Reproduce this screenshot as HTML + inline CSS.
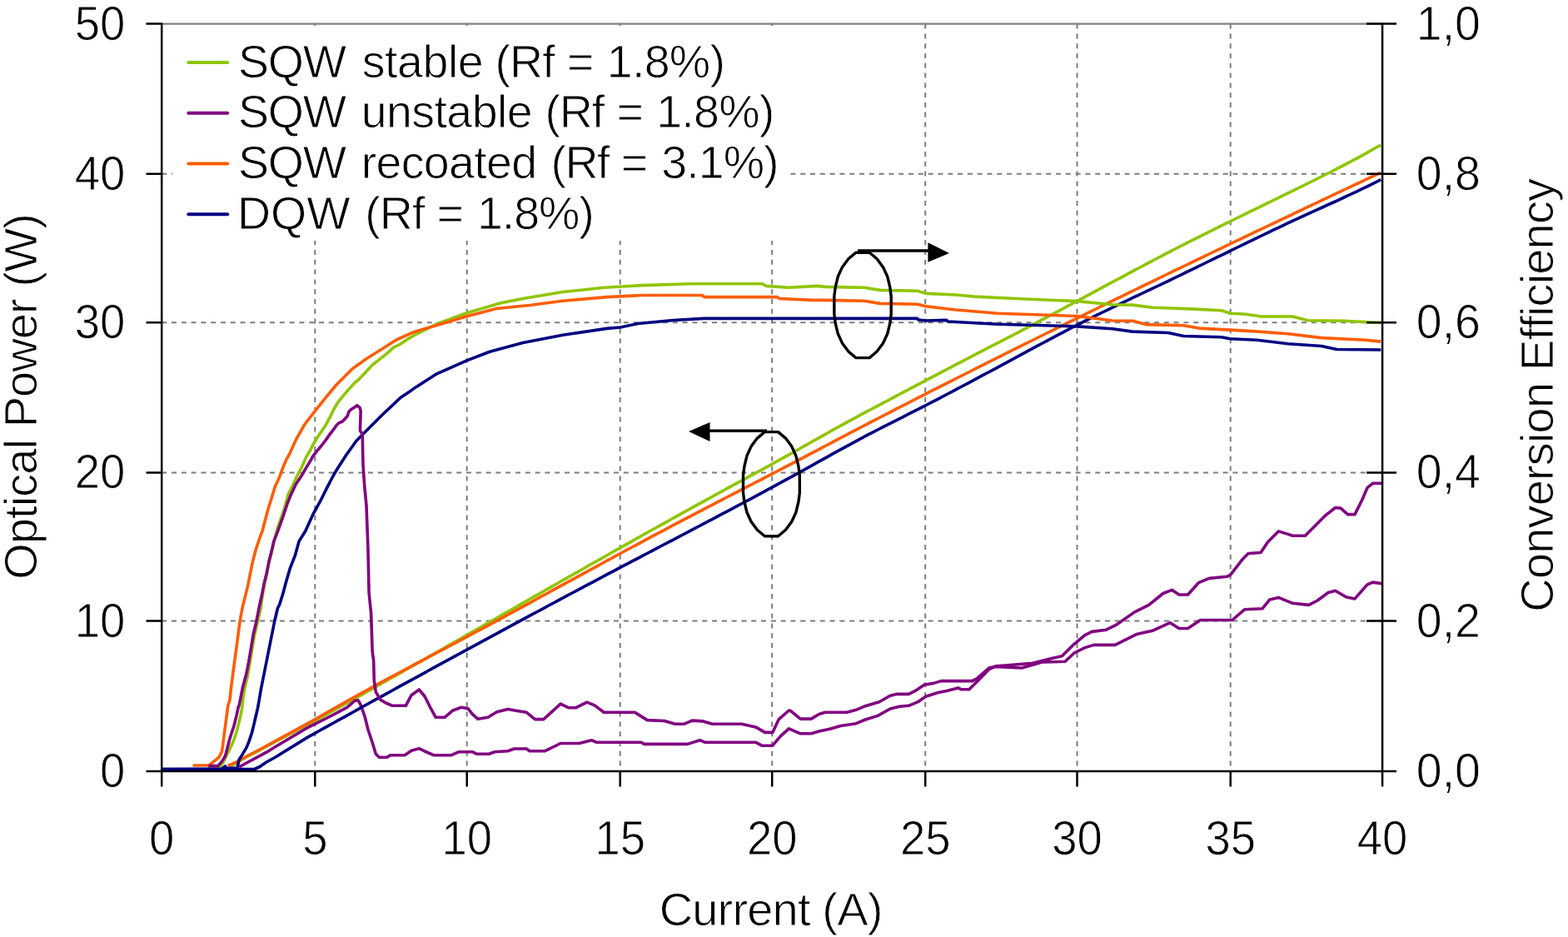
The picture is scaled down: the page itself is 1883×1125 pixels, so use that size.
<!DOCTYPE html><html><head><meta charset="utf-8"><title>Optical power and conversion efficiency vs current</title><style>
html,body{margin:0;padding:0;background:#fff;}body{width:1883px;height:1125px;overflow:hidden;}
svg{display:block;}text{font-family:"Liberation Sans",Arial,sans-serif;fill:#000;stroke:#fff;stroke-width:0.9px;}
</style></head><body>
<svg width="1883" height="1125" viewBox="0 0 1883 1125">
<rect x="0" y="0" width="1883" height="1125" fill="#fff"/>
<path d="M378.3 28.6V925.9M560.7 28.6V925.9M744.7 28.6V925.9M927.2 28.6V925.9M1111.2 28.6V925.9M1293.5 28.6V925.9M1477.7 28.6V925.9M194.2 745.6H1660.1M194.2 567.4H1660.1M194.2 387.3H1660.1M194.2 208.8H1660.1" stroke="#7c7c7c" stroke-width="2.0" stroke-dasharray="6 5.8" fill="none"/>
<path d="M194.2 28.6H1660.1" stroke="#808080" stroke-width="2.2" fill="none"/>
<rect x="207" y="31" width="739" height="258" fill="#fff"/>
<polyline points="276.0,921.0 284.8,915.5 296.0,909.0 308.0,903.0 320.0,896.2 380.0,864.6 386.0,861.2 392.0,857.9 398.0,854.5 404.0,851.2 410.0,847.8 416.0,844.5 422.0,841.1 428.0,837.7 434.0,834.4 440.0,831.0 446.0,827.6 452.0,824.2 458.0,820.8 464.0,817.4 470.0,814.0 476.0,810.6 482.0,807.2 488.0,803.8 494.0,800.4 500.0,797.0 506.0,793.6 512.0,790.2 518.0,786.8 524.0,783.4 530.0,780.0 536.0,776.5 542.0,773.1 548.0,769.7 554.0,766.3 560.0,762.8 566.0,759.4 572.0,756.0 578.0,752.6 584.0,749.1 590.0,745.7 596.0,742.3 602.0,738.9 608.0,735.4 614.0,732.0 620.0,728.6 626.0,725.1 632.0,721.7 638.0,718.3 644.0,714.9 650.0,711.5 656.0,708.0 662.0,704.6 668.0,701.2 674.0,697.8 680.0,694.4 686.0,691.0 692.0,687.6 698.0,684.2 704.0,680.7 710.0,677.3 716.0,674.0 722.0,670.6 728.0,667.2 734.0,663.8 740.0,660.4 746.0,657.0 752.0,653.6 758.0,650.3 764.0,646.9 770.0,643.5 776.0,640.2 782.0,636.8 788.0,633.5 794.0,630.1 800.0,626.8 806.0,623.5 812.0,620.1 818.0,616.8 824.0,613.5 830.0,610.2 836.0,606.9 842.0,603.6 848.0,600.3 854.0,597.0 860.0,593.7 866.0,590.5 872.0,587.2 878.0,583.9 884.0,580.7 890.0,577.4 896.0,574.2 902.0,570.9 908.0,567.6 914.0,564.4 920.0,561.1 926.0,557.8 932.0,554.5 938.0,551.2 944.0,547.9 950.0,544.5 956.0,541.2 962.0,537.8 968.0,534.4 974.0,531.0 980.0,527.6 986.0,524.3 992.0,520.9 998.0,517.5 1004.0,514.2 1010.0,510.9 1016.0,507.6 1022.0,504.3 1028.0,501.1 1034.0,497.9 1040.0,494.7 1046.0,491.5 1052.0,488.3 1058.0,485.1 1064.0,482.0 1070.0,478.8 1076.0,475.6 1082.0,472.4 1088.0,469.3 1094.0,466.1 1100.0,462.9 1106.0,459.8 1112.0,456.6 1118.0,453.4 1124.0,450.3 1130.0,447.1 1136.0,444.0 1142.0,440.8 1148.0,437.7 1154.0,434.6 1160.0,431.5 1166.0,428.3 1172.0,425.2 1178.0,422.1 1184.0,419.0 1190.0,415.9 1196.0,412.8 1202.0,409.8 1208.0,406.7 1214.0,403.6 1220.0,400.5 1226.0,397.3 1232.0,394.2 1238.0,391.1 1244.0,387.9 1250.0,384.7 1256.0,381.5 1262.0,378.4 1268.0,375.2 1274.0,372.0 1280.0,368.7 1286.0,365.5 1292.0,362.3 1298.0,359.1 1304.0,355.9 1310.0,352.6 1316.0,349.4 1322.0,346.2 1328.0,342.9 1334.0,339.7 1340.0,336.5 1346.0,333.3 1352.0,330.1 1358.0,326.8 1364.0,323.6 1370.0,320.5 1376.0,317.3 1382.0,314.1 1388.0,311.0 1394.0,307.8 1400.0,304.7 1406.0,301.6 1412.0,298.5 1418.0,295.5 1424.0,292.4 1430.0,289.4 1436.0,286.3 1442.0,283.3 1448.0,280.3 1454.0,277.3 1460.0,274.4 1466.0,271.4 1472.0,268.4 1478.0,265.5 1484.0,262.5 1490.0,259.6 1496.0,256.6 1502.0,253.7 1508.0,250.8 1514.0,247.9 1520.0,244.9 1526.0,242.0 1532.0,239.1 1538.0,236.2 1544.0,233.2 1550.0,230.3 1556.0,227.4 1562.0,224.4 1568.0,221.5 1574.0,218.5 1580.0,215.5 1586.0,212.5 1592.0,209.5 1598.0,206.5 1604.0,203.4 1610.0,200.3 1616.0,197.2 1622.0,194.0 1628.0,190.8 1634.0,187.6 1640.0,184.3 1646.0,180.9 1652.0,177.5 1658.0,174.1 1658.2,173.9" fill="none" stroke="#90C500" stroke-width="3.6" stroke-linejoin="round" stroke-linecap="butt"/>
<polyline points="287.2,920.8 296.0,916.0 308.0,909.6 320.0,903.2 330.0,897.0 370.0,873.3 396.7,860.0 416.7,849.3 426.0,841.3 430.0,840.7 432.7,845.3 438.0,860.0 442.0,876.0 447.3,892.0 451.3,905.3 455.3,909.3 464.7,909.3 468.7,906.7 486.0,906.7 494.0,901.3 503.3,898.7 510.0,902.0 520.7,906.7 542.0,906.7 551.3,902.7 567.3,902.7 572.7,905.3 587.3,905.3 594.0,902.7 610.0,901.7 617.4,899.0 632.3,899.0 636.0,901.7 654.6,901.7 673.2,892.5 695.5,892.5 710.4,888.7 716.0,891.2 769.9,891.2 773.6,893.4 825.6,893.4 840.5,888.7 846.1,891.2 907.4,891.2 914.8,895.2 927.8,895.2 937.1,884.1 947.4,874.8 961.2,880.8 974.2,880.8 983.5,878.0 996.5,875.2 1009.5,871.5 1028.1,868.7 1039.2,864.0 1054.1,859.4 1069.0,851.0 1080.1,848.3 1091.3,847.3 1102.4,842.7 1111.7,836.2 1126.6,831.5 1135.9,829.7 1150.7,825.9 1154.5,827.8 1163.8,827.8 1174.9,816.7 1187.9,803.6 1195.4,799.9 1206.5,799.0 1240.0,796.2 1266.0,789.7 1275.3,787.8 1290.0,773.3 1302.8,762.6 1311.3,758.4 1328.4,756.2 1341.2,749.8 1362.5,734.9 1379.6,726.4 1396.7,712.5 1407.3,708.3 1415.9,714.0 1426.5,714.0 1439.3,699.7 1452.1,694.4 1473.4,692.3 1477.7,690.1 1492.6,670.9 1499.0,664.5 1514.0,663.5 1522.5,650.7 1535.3,637.9 1546.0,641.1 1552.4,643.2 1567.3,643.2 1590.8,619.7 1603.6,609.5 1610.0,610.1 1618.5,617.6 1627.0,617.6 1635.6,600.5 1642.0,585.6 1648.4,580.3 1660.1,580.3" fill="none" stroke="#800080" stroke-width="3.6" stroke-linejoin="round" stroke-linecap="butt"/>
<polyline points="273.6,919.2 280.0,916.8 284.8,914.4 296.0,908.0 308.0,902.0 320.0,895.5 330.0,890.0 380.0,862.8 386.0,859.3 392.0,855.8 398.0,852.4 404.0,849.0 410.0,845.6 416.0,842.2 422.0,838.9 428.0,835.6 434.0,832.3 440.0,829.0 446.0,825.7 452.0,822.4 458.0,819.2 464.0,815.9 470.0,812.7 476.0,809.5 482.0,806.3 488.0,803.1 494.0,799.9 500.0,796.7 506.0,793.6 512.0,790.4 518.0,787.2 524.0,784.0 530.0,780.9 536.0,777.7 542.0,774.5 548.0,771.3 554.0,768.1 560.0,764.9 566.0,761.7 572.0,758.5 578.0,755.3 584.0,752.1 590.0,748.8 596.0,745.6 602.0,742.3 608.0,739.1 614.0,735.8 620.0,732.6 626.0,729.3 632.0,726.1 638.0,722.8 644.0,719.5 650.0,716.2 656.0,713.0 662.0,709.7 668.0,706.4 674.0,703.1 680.0,699.9 686.0,696.6 692.0,693.3 698.0,690.1 704.0,686.8 710.0,683.5 716.0,680.3 722.0,677.0 728.0,673.7 734.0,670.5 740.0,667.2 746.0,664.0 752.0,660.7 758.0,657.5 764.0,654.3 770.0,651.1 776.0,647.8 782.0,644.6 788.0,641.4 794.0,638.3 800.0,635.1 806.0,631.9 812.0,628.7 818.0,625.6 824.0,622.4 830.0,619.3 836.0,616.2 842.0,613.1 848.0,609.9 854.0,606.8 860.0,603.7 866.0,600.6 872.0,597.5 878.0,594.4 884.0,591.3 890.0,588.2 896.0,585.1 902.0,582.0 908.0,578.9 914.0,575.8 920.0,572.7 926.0,569.6 932.0,566.5 938.0,563.3 944.0,560.2 950.0,557.1 956.0,553.9 962.0,550.8 968.0,547.6 974.0,544.4 980.0,541.3 986.0,538.1 992.0,535.0 998.0,531.8 1004.0,528.7 1010.0,525.5 1016.0,522.4 1022.0,519.2 1028.0,516.1 1034.0,513.0 1040.0,509.9 1046.0,506.7 1052.0,503.6 1058.0,500.5 1064.0,497.4 1070.0,494.3 1076.0,491.2 1082.0,488.2 1088.0,485.1 1094.0,482.0 1100.0,478.9 1106.0,475.9 1112.0,472.8 1118.0,469.7 1124.0,466.7 1130.0,463.7 1136.0,460.6 1142.0,457.6 1148.0,454.5 1154.0,451.5 1160.0,448.5 1166.0,445.5 1172.0,442.4 1178.0,439.4 1184.0,436.4 1190.0,433.4 1196.0,430.4 1202.0,427.4 1208.0,424.4 1214.0,421.4 1220.0,418.4 1226.0,415.4 1232.0,412.4 1238.0,409.5 1244.0,406.5 1250.0,403.5 1256.0,400.5 1262.0,397.6 1268.0,394.6 1274.0,391.6 1280.0,388.7 1286.0,385.7 1292.0,382.8 1298.0,379.8 1304.0,376.8 1310.0,373.9 1316.0,371.0 1322.0,368.0 1328.0,365.1 1334.0,362.1 1340.0,359.2 1346.0,356.3 1352.0,353.4 1358.0,350.4 1364.0,347.5 1370.0,344.6 1376.0,341.7 1382.0,338.8 1388.0,335.9 1394.0,333.0 1400.0,330.0 1406.0,327.1 1412.0,324.2 1418.0,321.4 1424.0,318.5 1430.0,315.6 1436.0,312.7 1442.0,309.8 1448.0,306.9 1454.0,304.0 1460.0,301.2 1466.0,298.3 1472.0,295.4 1478.0,292.5 1484.0,289.7 1490.0,286.8 1496.0,283.9 1502.0,281.1 1508.0,278.2 1514.0,275.4 1520.0,272.5 1526.0,269.6 1532.0,266.8 1538.0,263.9 1544.0,261.1 1550.0,258.3 1556.0,255.4 1562.0,252.6 1568.0,249.7 1574.0,246.9 1580.0,244.0 1586.0,241.2 1592.0,238.4 1598.0,235.5 1604.0,232.7 1610.0,229.9 1616.0,227.0 1622.0,224.2 1628.0,221.4 1634.0,218.6 1640.0,215.7 1646.0,212.9 1652.0,210.1 1658.0,207.3 1658.2,207.2" fill="none" stroke="#FF5D00" stroke-width="3.6" stroke-linejoin="round" stroke-linecap="butt"/>
<polyline points="194.0,923.5 305.6,923.5 312.0,920.5 320.0,915.0 330.0,909.5 370.0,884.9 376.0,881.6 382.0,878.2 388.0,874.9 394.0,871.6 400.0,868.2 406.0,864.9 412.0,861.6 418.0,858.3 424.0,855.0 430.0,851.7 436.0,848.3 442.0,845.0 448.0,841.7 454.0,838.4 460.0,835.1 466.0,831.8 472.0,828.5 478.0,825.2 484.0,821.9 490.0,818.6 496.0,815.4 502.0,812.1 508.0,808.8 514.0,805.5 520.0,802.2 526.0,798.9 532.0,795.7 538.0,792.4 544.0,789.1 550.0,785.9 556.0,782.6 562.0,779.3 568.0,776.1 574.0,772.8 580.0,769.6 586.0,766.3 592.0,763.1 598.0,759.8 604.0,756.6 610.0,753.3 616.0,750.1 622.0,746.9 628.0,743.6 634.0,740.4 640.0,737.2 646.0,734.0 652.0,730.8 658.0,727.5 664.0,724.3 670.0,721.1 676.0,717.9 682.0,714.7 688.0,711.5 694.0,708.3 700.0,705.1 706.0,701.9 712.0,698.8 718.0,695.6 724.0,692.4 730.0,689.2 736.0,686.1 742.0,682.9 748.0,679.7 754.0,676.6 760.0,673.4 766.0,670.3 772.0,667.1 778.0,664.0 784.0,660.8 790.0,657.7 796.0,654.5 802.0,651.4 808.0,648.3 814.0,645.1 820.0,642.0 826.0,638.8 832.0,635.7 838.0,632.5 844.0,629.4 850.0,626.2 856.0,623.1 862.0,619.9 868.0,616.7 874.0,613.6 880.0,610.4 886.0,607.2 892.0,604.0 898.0,600.8 904.0,597.6 910.0,594.4 916.0,591.2 922.0,587.9 928.0,584.7 934.0,581.4 940.0,578.1 946.0,574.9 952.0,571.6 958.0,568.3 964.0,565.0 970.0,561.6 976.0,558.3 982.0,554.9 988.0,551.6 994.0,548.3 1000.0,544.9 1006.0,541.6 1012.0,538.3 1018.0,535.1 1024.0,531.8 1030.0,528.6 1036.0,525.4 1042.0,522.2 1048.0,519.1 1054.0,516.0 1060.0,512.9 1066.0,509.9 1072.0,506.8 1078.0,503.8 1084.0,500.8 1090.0,497.7 1096.0,494.7 1102.0,491.6 1108.0,488.6 1114.0,485.5 1120.0,482.4 1126.0,479.3 1132.0,476.1 1138.0,473.0 1144.0,469.8 1150.0,466.7 1156.0,463.5 1162.0,460.3 1168.0,457.1 1174.0,453.9 1180.0,450.7 1186.0,447.5 1192.0,444.3 1198.0,441.1 1204.0,437.8 1210.0,434.6 1216.0,431.4 1222.0,428.1 1228.0,424.9 1234.0,421.6 1240.0,418.4 1246.0,415.2 1252.0,412.0 1258.0,408.8 1264.0,405.6 1270.0,402.4 1276.0,399.3 1282.0,396.1 1288.0,393.0 1294.0,389.9 1300.0,386.9 1306.0,383.9 1312.0,380.9 1318.0,377.9 1324.0,375.0 1330.0,372.1 1336.0,369.2 1342.0,366.3 1348.0,363.4 1354.0,360.6 1360.0,357.7 1366.0,354.9 1372.0,352.0 1378.0,349.2 1384.0,346.4 1390.0,343.5 1396.0,340.7 1402.0,337.8 1408.0,334.9 1414.0,332.0 1420.0,329.1 1426.0,326.2 1432.0,323.3 1438.0,320.4 1444.0,317.5 1450.0,314.5 1456.0,311.6 1462.0,308.7 1468.0,305.8 1474.0,302.8 1480.0,299.9 1486.0,297.0 1492.0,294.1 1498.0,291.2 1504.0,288.3 1510.0,285.4 1516.0,282.5 1522.0,279.6 1528.0,276.7 1534.0,273.9 1540.0,271.1 1546.0,268.2 1552.0,265.4 1558.0,262.7 1564.0,259.9 1570.0,257.2 1576.0,254.4 1582.0,251.7 1588.0,249.0 1594.0,246.2 1600.0,243.5 1606.0,240.8 1612.0,238.0 1618.0,235.2 1624.0,232.4 1630.0,229.6 1636.0,226.7 1642.0,223.8 1648.0,220.8 1654.0,217.8 1658.2,215.7" fill="none" stroke="#000080" stroke-width="3.6" stroke-linejoin="round" stroke-linecap="butt"/>
<polyline points="249.6,921.6 264.0,921.6 268.8,913.6 273.6,904.0 277.6,896.0 281.6,886.4 284.8,876.0 287.2,866.4 289.6,856.0 291.2,846.4 291.6,840.0 294.0,826.0 297.7,810.0 300.4,794.0 303.1,778.0 305.7,762.0 309.5,746.0 313.2,730.0 315.5,713.1 317.8,700.4 320.5,688.7 323.4,674.0 326.3,662.3 329.3,649.6 332.9,635.1 338.2,620.0 341.8,609.3 346.2,593.3 351.6,582.7 356.9,571.1 362.2,561.3 367.6,548.9 372.9,540.0 375.0,535.5 380.3,526.5 385.7,518.5 391.0,510.5 396.3,500.9 400.3,492.5 405.7,483.1 411.0,476.7 416.3,470.3 421.7,464.4 427.0,458.5 430.0,456.6 438.1,447.9 446.2,439.2 456.1,431.1 464.2,424.9 472.3,417.4 481.0,413.0 489.1,407.4 500.0,401.2 524.5,389.0 560.6,375.8 601.5,363.8 628.0,358.5 675.9,350.5 726.3,345.2 771.5,342.6 829.9,340.7 914.9,340.7 920.2,343.4 946.7,345.2 981.2,343.4 991.2,344.4 1037.6,345.2 1056.8,348.4 1101.6,349.2 1112.8,352.4 1148.0,354.0 1170.4,356.1 1225.6,358.8 1293.6,361.6 1335.8,365.7 1360.0,366.1 1384.0,369.3 1429.4,370.9 1466.7,372.8 1477.4,376.3 1496.1,377.3 1514.7,380.0 1552.1,380.0 1570.8,384.8 1613.5,385.3 1658.3,387.5" fill="none" stroke="#90C500" stroke-width="3.6" stroke-linejoin="round" stroke-linecap="butt"/>
<polyline points="231.6,919.0 251.2,918.8 257.6,913.6 263.2,908.8 266.4,902.4 267.6,894.4 269.2,881.6 271.6,864.0 273.6,848.0 276.0,840.0 277.5,826.0 279.6,810.0 281.7,794.0 283.9,778.0 286.0,762.0 288.1,746.0 291.0,730.0 294.7,715.1 297.6,703.4 300.5,688.7 303.5,674.0 307.4,659.3 312.3,644.7 314.7,638.7 319.6,620.0 323.1,607.6 327.6,593.3 330.2,584.4 335.6,572.9 339.1,563.1 343.6,552.4 348.4,543.6 356.0,526.8 365.6,510.0 377.6,494.4 392.0,476.4 404.0,462.0 423.2,442.8 440.0,430.8 459.2,418.8 476.0,408.0 497.6,398.4 524.5,390.4 560.6,379.7 596.2,370.5 636.0,366.5 675.9,361.2 729.0,356.6 771.5,354.5 843.2,354.5 845.8,356.6 933.4,356.6 936.1,358.5 975.9,360.4 990.0,360.4 1037.6,361.2 1056.8,364.4 1101.6,365.2 1112.8,367.9 1130.4,370.0 1148.0,372.0 1198.0,376.2 1293.6,379.5 1335.8,385.0 1360.0,385.3 1376.0,389.6 1421.4,390.7 1440.0,394.1 1504.1,397.6 1546.8,400.8 1586.8,405.6 1640.1,408.3 1658.3,410.1" fill="none" stroke="#FF5D00" stroke-width="3.6" stroke-linejoin="round" stroke-linecap="butt"/>
<polyline points="194.0,923.5 266.4,923.2 270.4,920.0 272.8,922.4 284.8,922.4 287.2,912.0 291.2,905.6 296.0,897.6 299.2,889.6 302.4,880.0 304.8,870.4 307.2,860.0 309.6,849.6 311.3,840.0 313.7,826.0 316.9,810.0 320.1,794.0 323.3,778.0 326.5,762.0 329.7,746.0 333.5,730.0 335.7,725.8 339.7,713.1 343.6,698.5 348.5,681.8 354.3,667.2 359.2,649.6 366.7,637.8 375.6,618.2 384.4,602.2 393.3,584.4 400.0,571.5 404.7,563.5 416.0,546.0 428.0,529.2 442.4,514.8 459.2,498.0 480.8,477.6 490.0,471.4 500.0,464.4 524.5,448.8 560.6,432.9 588.2,422.2 628.0,411.6 675.9,402.3 729.0,394.4 744.9,393.0 766.2,388.5 808.6,384.5 845.8,382.4 990.0,382.4 1101.6,382.3 1103.0,384.0 1111.2,385.0 1136.8,384.4 1138.4,386.0 1198.0,389.2 1293.6,391.9 1335.8,394.7 1360.0,398.1 1402.7,399.5 1421.4,403.5 1466.7,404.8 1477.4,406.7 1509.4,408.3 1546.8,412.8 1586.8,415.5 1605.5,419.5 1658.3,420.0" fill="none" stroke="#000080" stroke-width="3.6" stroke-linejoin="round" stroke-linecap="butt"/>
<polyline points="250.4,919.6 261.6,919.6 266.4,914.4 270.4,908.0 272.8,899.2 275.2,889.6 277.6,881.6 280.8,872.0 284.0,859.2 286.4,848.0 287.1,847.3 291.3,826.0 295.6,810.0 298.8,794.0 301.5,778.0 304.1,762.0 307.9,746.0 311.0,730.0 314.7,713.1 317.2,700.4 320.1,688.7 323.0,674.0 326.0,662.3 328.9,649.6 332.8,639.8 340.0,620.0 345.3,604.0 348.9,595.1 355.1,581.8 362.2,571.1 368.4,560.4 373.8,551.6 375.0,548.9 380.3,541.9 385.7,535.5 391.0,528.6 396.3,521.1 401.7,514.2 404.1,510.5 407.0,507.8 411.3,506.0 415.0,502.0 417.4,499.1 419.0,494.3 421.7,491.6 425.9,488.9 428.6,486.8 431.8,488.9 433.2,493.0 432.8,505.0 432.4,517.0 435.2,521.2 436.0,558.0 437.6,582.0 440.0,607.0 442.0,660.4 443.1,711.6 445.6,736.4 447.2,782.8 448.7,793.3 449.3,817.3 451.3,830.7 456.7,840.0 463.3,844.0 471.3,847.3 487.3,847.3 494.0,834.7 503.3,828.0 510.0,836.0 516.7,849.3 523.3,861.3 534.0,861.3 543.3,853.3 554.0,849.3 562.0,850.7 567.3,857.3 574.0,863.3 586.0,861.3 596.7,854.7 610.0,851.5 621.2,853.4 632.3,855.3 642.5,863.6 652.8,863.6 673.2,845.1 682.5,849.7 691.8,849.7 704.8,843.2 714.1,846.9 725.2,855.3 762.4,855.3 777.3,864.6 797.7,865.5 810.7,869.2 821.9,869.2 831.2,865.1 844.2,865.9 855.4,869.2 890.7,869.2 907.4,872.9 918.6,879.4 927.8,879.4 935.3,863.6 947.4,853.0 950.0,853.8 961.2,863.1 974.2,863.1 983.5,857.5 990.9,855.3 1016.9,855.3 1028.1,852.3 1037.4,848.3 1055.9,842.7 1069.0,835.2 1076.4,833.4 1091.3,833.4 1098.7,829.7 1109.9,822.2 1121.0,820.4 1130.3,817.6 1167.5,817.6 1173.0,814.8 1187.9,801.8 1195.4,800.5 1206.5,801.0 1226.9,802.0 1251.1,795.0 1279.0,794.3 1290.0,784.0 1302.8,777.6 1313.5,774.4 1339.1,774.4 1364.7,761.6 1383.9,757.3 1405.2,747.7 1415.9,754.5 1426.5,754.5 1441.5,744.5 1479.8,744.5 1494.8,731.7 1516.1,730.7 1524.6,720.0 1535.3,717.4 1552.4,724.3 1571.6,726.4 1582.2,721.0 1595.0,711.5 1603.6,709.3 1616.4,716.8 1627.0,718.9 1642.0,701.9 1648.4,699.1 1660.1,700.8" fill="none" stroke="#800080" stroke-width="3.6" stroke-linejoin="round" stroke-linecap="butt"/>
<path d="M194.2 27.6V944.5M194.2 925.9H1660.1M1660.1 28.6V944.5M175.5 925.9H194.2M1641 925.9H1677M175.5 745.6H194.2M1641 745.6H1677M175.5 567.4H194.2M1641 567.4H1677M175.5 387.3H194.2M1641 387.3H1677M175.5 208.8H194.2M1641 208.8H1677M175.5 28.6H194.2M1641 28.6H1677M194.2 925.9V944.5M378.3 925.9V944.5M560.7 925.9V944.5M744.7 925.9V944.5M927.2 925.9V944.5M1111.2 925.9V944.5M1293.5 925.9V944.5M1477.7 925.9V944.5M1660.1 925.9V944.5" stroke="#000" stroke-width="2.5" fill="none"/>
<g fill="none" stroke="#000" stroke-width="3.4" stroke-linejoin="round">
<path d="M934.5 518.6L943.4 526.1L950.8 536.1L955.9 547.4L958.9 559.9L960.3 570.6L960.3 591.8L958.9 602.5L955.9 615.0L950.8 626.3L943.4 636.3L934.5 643.8L918.3 643.8L909.4 636.3L902.0 626.3L896.9 615.0L893.9 602.5L892.5 591.8L892.5 570.6L893.9 559.9L896.9 547.4L902.0 536.1L909.4 526.1L918.3 518.6Z"/>
<path d="M1044.2 303.2L1053.1 310.8L1060.6 320.9L1065.8 332.3L1068.8 344.9L1070.2 355.7L1070.2 377.1L1068.8 387.9L1065.8 400.5L1060.6 411.9L1053.1 422.0L1044.2 429.6L1027.8 429.6L1018.9 422.0L1011.4 411.9L1006.2 400.5L1003.2 387.9L1001.8 377.1L1001.8 355.7L1003.2 344.9L1006.2 332.3L1011.4 320.9L1018.9 310.8L1027.8 303.2Z"/>
</g>
<g fill="none" stroke="#000" stroke-width="3.6">
<path d="M921 517.2H848"/>
<path d="M1030 301H1118"/>
</g>
<path d="M827 518L852.5 507V530Z" fill="#000"/>
<path d="M1140 304L1114.4 291.2V314.8Z" fill="#000"/>
<g font-size="57">
<text x="150.3" y="944.9" text-anchor="end" textLength="30.27" lengthAdjust="spacingAndGlyphs">0</text>
<text x="150.3" y="764.6" text-anchor="end" textLength="60.53" lengthAdjust="spacingAndGlyphs">10</text>
<text x="150.3" y="586.4" text-anchor="end" textLength="60.53" lengthAdjust="spacingAndGlyphs">20</text>
<text x="150.3" y="406.3" text-anchor="end" textLength="60.53" lengthAdjust="spacingAndGlyphs">30</text>
<text x="150.3" y="227.8" text-anchor="end" textLength="60.53" lengthAdjust="spacingAndGlyphs">40</text>
<text x="150.3" y="47.6" text-anchor="end" textLength="60.53" lengthAdjust="spacingAndGlyphs">50</text>
<text x="1700.8" y="944.9" textLength="77.18" lengthAdjust="spacingAndGlyphs">0,0</text>
<text x="1700.8" y="764.6" textLength="77.18" lengthAdjust="spacingAndGlyphs">0,2</text>
<text x="1700.8" y="586.4" textLength="77.18" lengthAdjust="spacingAndGlyphs">0,4</text>
<text x="1700.8" y="406.3" textLength="77.18" lengthAdjust="spacingAndGlyphs">0,6</text>
<text x="1700.8" y="227.8" textLength="77.18" lengthAdjust="spacingAndGlyphs">0,8</text>
<text x="1700.8" y="47.6" textLength="77.18" lengthAdjust="spacingAndGlyphs">1,0</text>
<text x="194.2" y="1025.6" text-anchor="middle" textLength="30.27" lengthAdjust="spacingAndGlyphs">0</text>
<text x="378.3" y="1025.6" text-anchor="middle" textLength="30.27" lengthAdjust="spacingAndGlyphs">5</text>
<text x="560.7" y="1025.6" text-anchor="middle" textLength="60.53" lengthAdjust="spacingAndGlyphs">10</text>
<text x="744.7" y="1025.6" text-anchor="middle" textLength="60.53" lengthAdjust="spacingAndGlyphs">15</text>
<text x="927.2" y="1025.6" text-anchor="middle" textLength="60.53" lengthAdjust="spacingAndGlyphs">20</text>
<text x="1111.2" y="1025.6" text-anchor="middle" textLength="60.53" lengthAdjust="spacingAndGlyphs">25</text>
<text x="1293.5" y="1025.6" text-anchor="middle" textLength="60.53" lengthAdjust="spacingAndGlyphs">30</text>
<text x="1477.7" y="1025.6" text-anchor="middle" textLength="60.53" lengthAdjust="spacingAndGlyphs">35</text>
<text x="1660.1" y="1025.6" text-anchor="middle" textLength="60.53" lengthAdjust="spacingAndGlyphs">40</text>
</g>
<g font-size="56">
<text x="926" y="1110.8" text-anchor="middle" textLength="268.6" lengthAdjust="spacing">Current (A)</text>
<text transform="translate(44.2 476) rotate(-90)" text-anchor="middle" textLength="439.5" lengthAdjust="spacing">Optical Power (W)</text>
<text transform="translate(1865 474.3) rotate(-90)" text-anchor="middle" textLength="520.75" lengthAdjust="spacing">Conversion Efficiency</text>
</g>
<g font-size="55.5">
<text y="92.6"><tspan x="285.9" textLength="130.3" lengthAdjust="spacing">SQW</tspan> <tspan x="434.7" textLength="146.0" lengthAdjust="spacing">stable</tspan> <tspan x="594.6" textLength="72.0" lengthAdjust="spacing">(Rf</tspan> <tspan x="681.1" textLength="32.8" lengthAdjust="spacing">=</tspan> <tspan x="728.8" textLength="142.1" lengthAdjust="spacing">1.8%)</tspan></text>
<text y="153.3"><tspan x="285.9" textLength="130.3" lengthAdjust="spacing">SQW</tspan> <tspan x="433.7" textLength="205.9" lengthAdjust="spacing">unstable</tspan> <tspan x="654.4" textLength="71.7" lengthAdjust="spacing">(Rf</tspan> <tspan x="740.6" textLength="32.8" lengthAdjust="spacing">=</tspan> <tspan x="788.2" textLength="142.1" lengthAdjust="spacing">1.8%)</tspan></text>
<text y="214.1"><tspan x="285.9" textLength="130.3" lengthAdjust="spacing">SQW</tspan> <tspan x="433.7" textLength="211.5" lengthAdjust="spacing">recoated</tspan> <tspan x="661.5" textLength="70.9" lengthAdjust="spacing">(Rf</tspan> <tspan x="745.8" textLength="32.9" lengthAdjust="spacing">=</tspan> <tspan x="794.3" textLength="141.3" lengthAdjust="spacing">3.1%)</tspan></text>
<text y="274.8"><tspan x="285.0" textLength="135.6" lengthAdjust="spacing">DQW</tspan> <tspan x="438.3" textLength="72.1" lengthAdjust="spacing">(Rf</tspan> <tspan x="524.6" textLength="32.9" lengthAdjust="spacing">=</tspan> <tspan x="573.0" textLength="140.7" lengthAdjust="spacing">1.8%)</tspan></text>
</g>
<path d="M226.3 75.1H273.2" stroke="#90C500" stroke-width="4" stroke-linecap="round"/>
<path d="M226.3 135.8H273.2" stroke="#800080" stroke-width="4" stroke-linecap="round"/>
<path d="M226.3 196.6H273.2" stroke="#FF5D00" stroke-width="4" stroke-linecap="round"/>
<path d="M226.3 257.3H273.2" stroke="#000080" stroke-width="4" stroke-linecap="round"/>
</svg></body></html>
